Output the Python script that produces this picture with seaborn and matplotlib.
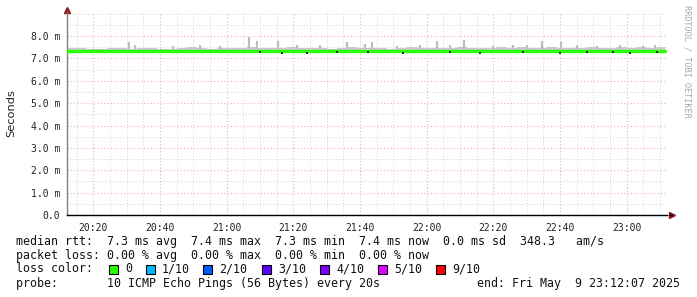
import matplotlib
matplotlib.use("Agg")
import matplotlib.pyplot as plt
import seaborn as sns
import numpy as np
import pandas as pd
from matplotlib.patches import Rectangle
from matplotlib.ticker import MultipleLocator

# ---- data (minutes after 20:00, values in ms) ----
start_min = 12.117   # 20:12:07
end_min = 192.117    # 23:12:07
bin_start = [12.1 + 3 * i for i in range(60)]
median_ms = [7.33, 7.32, 7.33, 7.32, 7.31, 7.33, 7.32, 7.33, 7.32, 7.33,
             7.32, 7.32, 7.33, 7.32, 7.31, 7.33, 7.33, 7.32, 7.33, 7.34,
             7.33, 7.32, 7.33, 7.32, 7.33, 7.33, 7.32, 7.33, 7.34, 7.32,
             7.33, 7.32, 7.33, 7.33, 7.32, 7.33, 7.32, 7.34, 7.33, 7.32,
             7.33, 7.32, 7.33, 7.33, 7.32, 7.33, 7.34, 7.33, 7.32, 7.33,
             7.32, 7.33, 7.34, 7.33, 7.32, 7.33, 7.33, 7.32, 7.33, 7.33]
smoke_top = [7.48, 7.45, 7.42, 7.44, 7.47, 7.45, 7.42, 7.46, 7.48, 7.44,
             7.43, 7.47, 7.49, 7.45, 7.44, 7.48, 7.46, 7.45, 7.49, 7.48,
             7.46, 7.45, 7.50, 7.46, 7.45, 7.48, 7.44, 7.46, 7.49, 7.45,
             7.48, 7.46, 7.44, 7.48, 7.50, 7.45, 7.46, 7.48, 7.45, 7.49,
             7.46, 7.48, 7.45, 7.49, 7.46, 7.50, 7.48, 7.45, 7.49, 7.46,
             7.48, 7.45, 7.49, 7.46, 7.48, 7.50, 7.46, 7.49, 7.48, 7.49]
spike_min = [30.7, 32.5, 66.7, 69.1, 75.4, 96.1, 101.5, 103.6, 123.1, 131.2,
             154.6, 160.3, 165.1, 44.0, 52.0, 88.0, 111.0, 118.0, 140.0,
             146.0, 171.0, 178.0, 185.0, 58.0, 81.0, 127.0, 150.0, 188.5]
spike_ms = [7.74, 7.60, 7.97, 7.76, 7.76, 7.75, 7.64, 7.73, 7.78, 7.82,
            7.78, 7.73, 7.60, 7.55, 7.58, 7.60, 7.57, 7.58, 7.55,
            7.58, 7.56, 7.58, 7.55, 7.57, 7.60, 7.58, 7.60, 7.62]
dark_min = [70.0, 76.5, 84.0, 93.0, 102.5, 113.0, 127.0,
            136.0, 149.0, 160.0, 168.0, 176.0, 181.0, 189.0]
dark_ms = [7.27, 7.26, 7.25, 7.27, 7.27, 7.26, 7.28,
           7.26, 7.27, 7.26, 7.28, 7.27, 7.25, 7.27]
tick_minutes = [20, 40, 60, 80, 100, 120, 140, 160, 180]
tick_labels = ["20:20", "20:40", "21:00", "21:20", "21:40", "22:00", "22:20", "22:40", "23:00"]
y_ticks = [0, 1, 2, 3, 4, 5, 6, 7, 8]
y_labels = ["0.0", "1.0 m", "2.0 m", "3.0 m", "4.0 m", "5.0 m", "6.0 m", "7.0 m", "8.0 m"]
loss_labels = ["0", "1/10", "2/10", "3/10", "4/10", "5/10", "9/10"]
loss_colors = ["#26ff00", "#00b8ff", "#0059ff", "#5e00ff", "#7e00ff", "#dd00ff", "#ff0000"]

sns.set_theme(style="white")
plt.rcParams["font.family"] = ["DejaVu Sans Mono"]

W, H = 697, 297
fig = plt.figure(figsize=(W / 100, H / 100), dpi=100)
fig.patch.set_facecolor("white")
ax = fig.add_axes([67 / W, (H - 215) / H, 600 / W, 203 / H])
ax.set_facecolor("white")
ax.set_xlim(start_min, end_min)
ax.set_ylim(0, 203 / 22.375)

# grid
ax.xaxis.set_minor_locator(MultipleLocator(5))
ax.yaxis.set_minor_locator(MultipleLocator(0.5))
ax.set_xticks(tick_minutes)
ax.set_xticklabels(tick_labels)
ax.set_yticks(y_ticks)
ax.set_yticklabels(y_labels)
ax.grid(which="minor", color="#d4d4d4", linestyle=(0, (1, 2)), linewidth=0.7)
ax.grid(which="major", color="#f0b0b0", linestyle=(0, (1, 2)), linewidth=0.8)
ax.set_axisbelow(True)

# smoke band
df = pd.DataFrame({"t": bin_start + [end_min - 0.6], "m": median_ms + [median_ms[-1]],
                   "s": smoke_top + [smoke_top[-1]]})
ax.fill_between(df["t"], np.array(df["m"]) - 0.04, df["s"], step="post", color="#cacaca", lw=0, zorder=2)
ax.vlines(spike_min, [7.40] * len(spike_min), spike_ms, color="#bdbdbd", lw=1.6, zorder=2)

sns.lineplot(data=df, x="t", y="m", ax=ax, color="#26ff00", lw=2.4, drawstyle="steps-post",
             zorder=3, legend=False)
ax.scatter(dark_min, dark_ms, s=3, marker="s", color="#202020", lw=0, zorder=4)
ax.set_xlabel("")
ax.set_ylabel("")

for s in ["top", "right"]:
    ax.spines[s].set_visible(False)
ax.spines["left"].set_color("#808080")
ax.spines["left"].set_linewidth(1.0)
ax.spines["bottom"].set_color("black")
ax.spines["bottom"].set_linewidth(1.0)
ax.tick_params(axis="both", which="both", length=2, width=0.8, color="#606060", labelsize=7.0,
               labelcolor="#222222", pad=3)
ax.tick_params(axis="x", which="major", pad=4)

# axis arrows
ax.plot([1.009], [0], marker=">", color="#8b1a1a", markersize=4, transform=ax.transAxes, clip_on=False)
ax.plot([1.004, 1.009], [0, 0], color="black", lw=1.0, transform=ax.transAxes, clip_on=False)
ax.plot([0], [1.01], marker="^", color="#8b1a1a", markersize=4, transform=ax.transAxes, clip_on=False)

# labels
fig.text(11 / W, 1 - 113 / H, "Seconds", rotation=90, ha="center", va="center",
         fontsize=8.2, family="DejaVu Sans", color="#222222")
fig.text(687 / W, 1 - 5 / H, "RRDTOOL / TOBI OETIKER", rotation=270, ha="center", va="top",
         fontsize=6.1, color="#a8a8a8")

fs = 8.4
def ftext(x, y, s, **kw):
    fig.text(x / W, 1 - y / H, s, fontsize=fs, va="center", ha=kw.pop("ha", "left"),
             color="#111111", **kw)

ftext(16, 241, "median rtt:  7.3 ms avg  7.4 ms max  7.3 ms min  7.4 ms now  0.0 ms sd  348.3   am/s")
ftext(16, 255, "packet loss: 0.00 % avg  0.00 % max  0.00 % min  0.00 % now")
ftext(16, 269, "loss color:")
sq_x = [109, 146, 203, 262, 320, 378, 436]
for x, lab, c in zip(sq_x, loss_labels, loss_colors):
    fig.patches.append(Rectangle((x / W, 1 - 274 / H), 9 / W, 9 / H, transform=fig.transFigure,
                                 facecolor=c, edgecolor="black", lw=0.8))
    ftext(x + 16, 269, lab)
ftext(16, 283, "probe:       10 ICMP Echo Pings (56 Bytes) every 20s")
ftext(680, 283, "end: Fri May  9 23:12:07 2025", ha="right")

fig.savefig("out.png", dpi=100, facecolor="white")
